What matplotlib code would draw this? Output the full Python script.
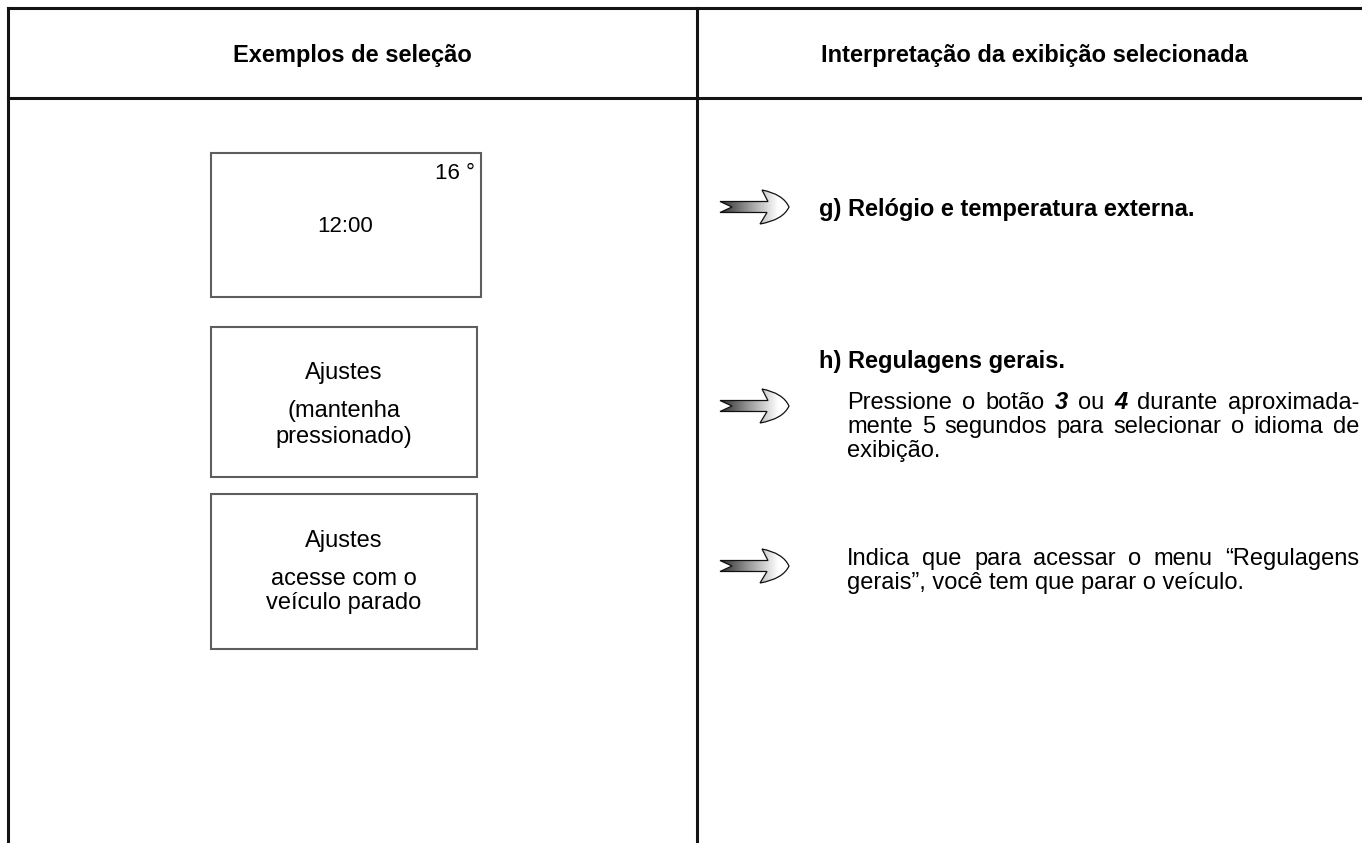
import matplotlib
matplotlib.use("Agg")
import numpy as np
import matplotlib.pyplot as plt
from matplotlib.path import Path
from matplotlib.patches import PathPatch, Rectangle
from matplotlib.colors import LinearSegmentedColormap

W, H = 1362, 843

# texts of the table
headers = ["Exemplos de seleção", "Interpretação da exibição selecionada"]

display_clock = "12:00"
display_temp = "16 °"
box2_lines = ["Ajustes", "(mantenha", "pressionado)"]
box3_lines = ["Ajustes", "acesse com o", "veículo parado"]

title_g = "g) Relógio e temperatura externa."
title_h = "h) Regulagens gerais."

# justified lines: list of (word, bold_italic)
para_h = [
    [("Pressione", False), ("o", False), ("botão", False), ("3", True),
     ("ou", False), ("4", True), ("durante", False), ("aproximada-", False)],
    [("mente", False), ("5", False), ("segundos", False), ("para", False),
     ("selecionar", False), ("o", False), ("idioma", False), ("de", False)],
]
para_h_last = "exibição."

para_i = [
    [("Indica", False), ("que", False), ("para", False), ("acessar", False),
     ("o", False), ("menu", False), ("“Regulagens", False)],
]
para_i_last = "gerais”, você tem que parar o veículo."

# layout (pixels)
LEFT, TOP, HEAD_Y, MID = 8, 8, 98, 697
BOXES = [(211, 153, 481, 297), (211, 327, 477, 477), (211, 494, 477, 649)]
ARROW_Y = [207, 406, 566]
FS = 17

plt.rcParams["font.family"] = ["Liberation Sans", "DejaVu Sans"]

fig = plt.figure(figsize=(W / 100, H / 100), dpi=100)
ax = fig.add_axes([0, 0, 1, 1])
ax.set_xlim(0, W)
ax.set_ylim(H, 0)
ax.axis("off")

# table frame
lc = "#141414"
lw = 2.2
ax.plot([LEFT, W + 5], [TOP, TOP], color=lc, lw=lw, solid_capstyle="projecting")
ax.plot([LEFT, W + 5], [HEAD_Y, HEAD_Y], color=lc, lw=lw)
ax.plot([LEFT, LEFT], [TOP, H + 5], color=lc, lw=lw, solid_capstyle="projecting")
ax.plot([MID, MID], [TOP, H + 5], color=lc, lw=lw)

ax.text((LEFT + MID) / 2, 62, headers[0], ha="center", va="baseline",
        fontsize=FS, fontweight="bold")
ax.text(1034, 62, headers[1], ha="center", va="baseline",
        fontsize=FS, fontweight="bold")

# display boxes
for x0, y0, x1, y1 in BOXES:
    ax.add_patch(Rectangle((x0, y0), x1 - x0, y1 - y0, fill=False,
                           edgecolor="#5e5e5e", lw=1.5))

ax.text(345, 232, display_clock, ha="center", va="baseline", fontsize=16)
ax.text(475, 179, display_temp, ha="right", va="baseline", fontsize=16)

for txt, yb in zip(box2_lines, [379, 417, 443]):
    ax.text(344, yb, txt, ha="center", va="baseline", fontsize=FS)
for txt, yb in zip(box3_lines, [547, 585, 609]):
    ax.text(344, yb, txt, ha="center", va="baseline", fontsize=FS)


# arrows with gradient fill
cmap = LinearSegmentedColormap.from_list("arr", ["#2e2e2e", "#9a9a9a", "#ffffff"])


def draw_arrow(x0, yc):
    pts = [(0, -5.5), (12, 0), (0, 5.5), (47, 5.5), (40, 17),
           (63, 13), (69, 0), (63, -13), (42, -17), (48, -5.5), (0, -5.5)]
    codes = [Path.MOVETO, Path.LINETO, Path.LINETO, Path.LINETO, Path.LINETO,
             Path.CURVE3, Path.CURVE3, Path.CURVE3, Path.CURVE3,
             Path.LINETO, Path.CLOSEPOLY]
    verts = [(x0 + px, yc + py) for px, py in pts]
    patch = PathPatch(Path(verts, codes), facecolor="none",
                      edgecolor="#111111", lw=0.9, zorder=3)
    ax.add_patch(patch)
    grad = np.clip(np.linspace(0, 1.2, 200), 0, 1)[None, :]
    im = ax.imshow(grad, cmap=cmap, extent=(x0, x0 + 70, yc + 18, yc - 18),
                   aspect="auto", zorder=2, interpolation="bilinear")
    im.set_clip_path(patch)


for yc in ARROW_Y:
    draw_arrow(720, yc)

# right column text
ax.text(819, 216, title_g, va="baseline", fontsize=FS, fontweight="bold")
ax.text(819, 368, title_h, va="baseline", fontsize=FS, fontweight="bold")

renderer = fig.canvas.get_renderer()


def justified(words, x0, x1, yb):
    items = []
    for w, bi in words:
        kw = dict(fontweight="bold", fontstyle="italic") if bi else {}
        items.append(ax.text(x0, yb, w, va="baseline", fontsize=FS, **kw))
    widths = [t.get_window_extent(renderer).width for t in items]
    gap = (x1 - x0 - sum(widths)) / (len(items) - 1)
    x = x0
    for t, wd in zip(items, widths):
        t.set_x(x)
        x += wd + gap


BODY_X, BODY_R = 847, 1359
for words, yb in zip(para_h, [409, 433]):
    justified(words, BODY_X, BODY_R, yb)
ax.text(BODY_X, 457, para_h_last, va="baseline", fontsize=FS)

for words, yb in zip(para_i, [565]):
    justified(words, BODY_X, BODY_R, yb)
ax.text(BODY_X, 589, para_i_last, va="baseline", fontsize=FS)

fig.savefig("out.png", dpi=100, facecolor="white")
